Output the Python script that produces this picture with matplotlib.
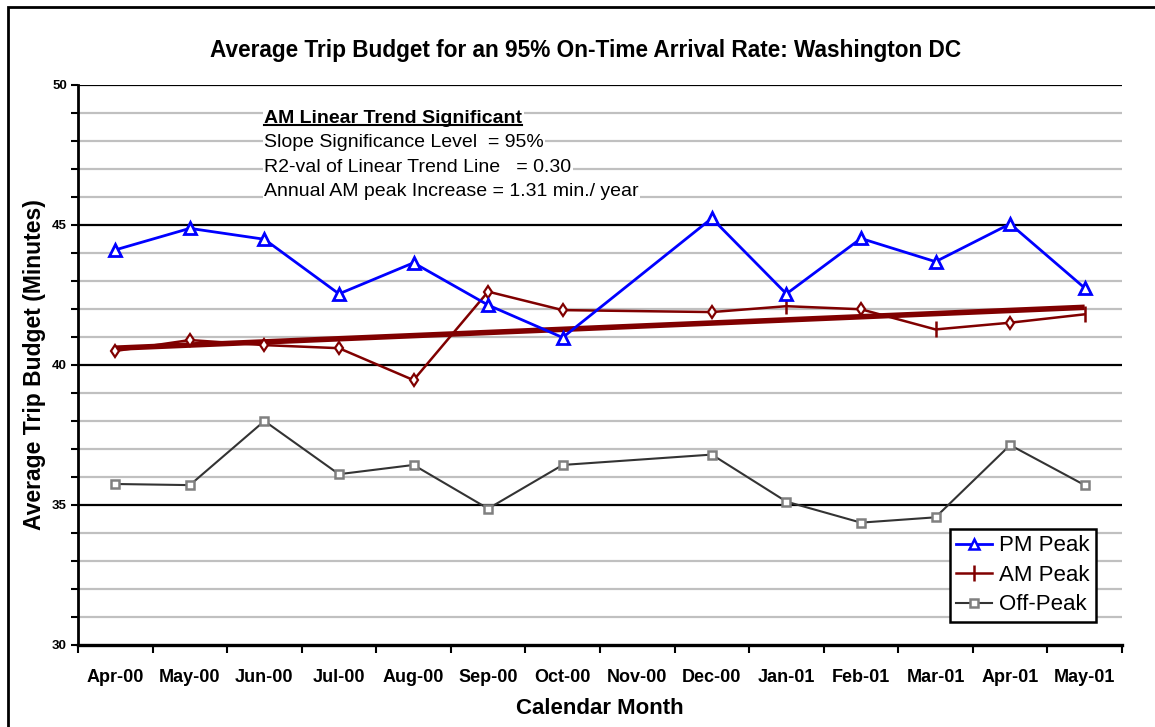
'''
Average trip budget, Washington DC
'''

import numpy as np
from matplotlib import pyplot as plt
from matplotlib.lines import Line2D
from matplotlib.patches import Rectangle

plt.rcParams['font.family'] = ['Liberation Sans', 'DejaVu Sans']

months = ["Apr-00", "May-00", "Jun-00", "Jul-00", "Aug-00", "Sep-00", "Oct-00",
          "Nov-00", "Dec-00", "Jan-01", "Feb-01", "Mar-01", "Apr-01", "May-01"]
# Nov-00 has no data
data_months = ["Apr-00", "May-00", "Jun-00", "Jul-00", "Aug-00", "Sep-00", "Oct-00",
               "Dec-00", "Jan-01", "Feb-01", "Mar-01", "Apr-01", "May-01"]

pm_peak = [44.11, 44.88, 44.49, 42.54, 43.65, 42.14, 40.98, 45.24, 42.54, 44.52, 43.69, 45.04, 42.75]
am_peak = [40.50, 40.89, 40.71, 40.60, 39.46, 42.62, 41.96, 41.89, 42.10, 41.99, 41.27, 41.51, 41.81]
off_peak = [35.75, 35.71, 38.00, 36.10, 36.43, 34.87, 36.43, 36.80, 35.12, 34.37, 34.56, 37.14, 35.71]

trend_months = ["Apr-00", "May-01"]
am_trend = [40.60, 42.06]

notes = ["Slope Significance Level  = 95%",
         "R2-val of Linear Trend Line   = 0.30",
         "Annual AM peak Increase = 1.31 min./ year"]

x = [months.index(m) for m in data_months]
xt = [months.index(m) for m in trend_months]

fig = plt.figure(figsize=(11.55, 7.27), dpi=100)
ax = fig.add_axes([0.0675, 0.1128, 0.9039, 0.7703])

# outer frame of the chart
fig.patches.append(Rectangle((0.0065, -0.1), 1.2, 1.09, transform=fig.transFigure,
                             fill=False, edgecolor='black', lw=2))

ax.set_xlim(-0.5, len(months) - 0.5)
ax.set_ylim(30, 50)

# grid lines: grey every minute, black every 5
for v in range(31, 50):
    if v % 5 == 0:
        ax.axhline(v, color='black', lw=1.6, zorder=1)
    else:
        ax.axhline(v, color='#c0c0c0', lw=1.6, zorder=1)
ax.axhline(50, color='black', lw=1.6, zorder=1)

ax.plot(x, off_peak, color='#333333', lw=1.5, marker='s', ms=6, mfc='white',
        mec='#808080', mew=1.8, zorder=3)
ax.plot(xt, am_trend, color='#800000', lw=4, zorder=4, solid_capstyle='butt')
ax.plot(x, am_peak, color='#800000', lw=1.8, zorder=5)
dia = [i for i, m in enumerate(data_months) if m not in ("Jan-01", "Mar-01", "May-01")]
bar = [i for i, m in enumerate(data_months) if m in ("Jan-01", "Mar-01", "May-01")]
ax.plot(x, am_peak, ls='none', marker='d', ms=6, mfc='white', mec='#800000', mew=1.6,
        markevery=dia, zorder=5)
ax.plot(x, am_peak, ls='none', marker='|', ms=11, mec='#800000', mew=1.8,
        markevery=bar, zorder=5)
ax.plot(x, pm_peak, color='#0000ff', lw=2, marker='^', ms=8, mfc='white',
        mec='#0000ff', mew=2, zorder=6)

# axes
for s in ['top', 'right']:
    ax.spines[s].set_visible(False)
ax.spines['left'].set_linewidth(2)
ax.spines['bottom'].set_linewidth(2.4)
ax.spines['left'].set_zorder(7)
ax.spines['bottom'].set_zorder(7)

ax.set_yticks(range(30, 51, 5))
ax.set_yticks(range(30, 51), minor=True)
ax.set_yticklabels([str(v) for v in range(30, 51, 5)], fontsize=9.5, fontweight='bold')
ax.tick_params(axis='y', which='both', direction='out', length=5, width=1.5, pad=3)

ax.set_xticks(np.arange(len(months) + 1) - 0.5)
ax.set_xticklabels([])
ax.set_xticks(np.arange(len(months)), minor=True)
ax.set_xticklabels(months, minor=True, fontsize=13, fontweight='bold')
ax.tick_params(axis='x', which='major', direction='out', length=6, width=1.5)
ax.tick_params(axis='x', which='minor', length=0, pad=17)

ax.set_xlabel("Calendar Month", fontsize=16, fontweight='bold', labelpad=9)
ax.set_ylabel("Average Trip Budget (Minutes)", fontsize=16.5, fontweight='bold', labelpad=4)
fig.text(0.507, 0.930, "Average Trip Budget for an 95% On-Time Arrival Rate: Washington DC",
         ha='center', va='center', fontsize=16.3, fontweight='bold')

# annotation
t = ax.text(0.1785, 0.94, "AM Linear Trend Significant", transform=ax.transAxes,
            fontsize=14, fontweight='bold', va='center', ha='left', zorder=8,
            bbox=dict(facecolor='white', edgecolor='none', pad=1))
fig.canvas.draw()
bb = t.get_window_extent().transformed(ax.transAxes.inverted())
ax.plot([bb.x0, bb.x1], [bb.y0 + 0.003, bb.y0 + 0.003], transform=ax.transAxes,
        color='black', lw=1.5, zorder=9)
for k, line in enumerate(notes):
    ax.text(0.1785, 0.897 - k * 0.0435, line, transform=ax.transAxes, fontsize=14,
            va='center', ha='left', zorder=8,
            bbox=dict(facecolor='white', edgecolor='none', pad=1))

handles = [
    Line2D([], [], color='#0000ff', lw=2, marker='^', ms=7, mfc='white', mec='#0000ff', mew=1.8),
    Line2D([], [], color='#800000', lw=1.8, marker='|', ms=11, mec='#800000', mew=1.8),
    Line2D([], [], color='#333333', lw=1.5, marker='s', ms=6, mfc='white', mec='#808080', mew=1.8),
]
leg = ax.legend(handles, ["PM Peak", "AM Peak", "Off-Peak"], loc='lower right',
                bbox_to_anchor=(0.975, 0.041), fontsize=16, frameon=True, fancybox=False,
                edgecolor='black', framealpha=1, handlelength=1.6, handletextpad=0.3,
                borderpad=0.3, labelspacing=0.38, borderaxespad=0)
leg.get_frame().set_linewidth(1.8)
leg.set_zorder(10)

plt.savefig("out.png", dpi=100)
